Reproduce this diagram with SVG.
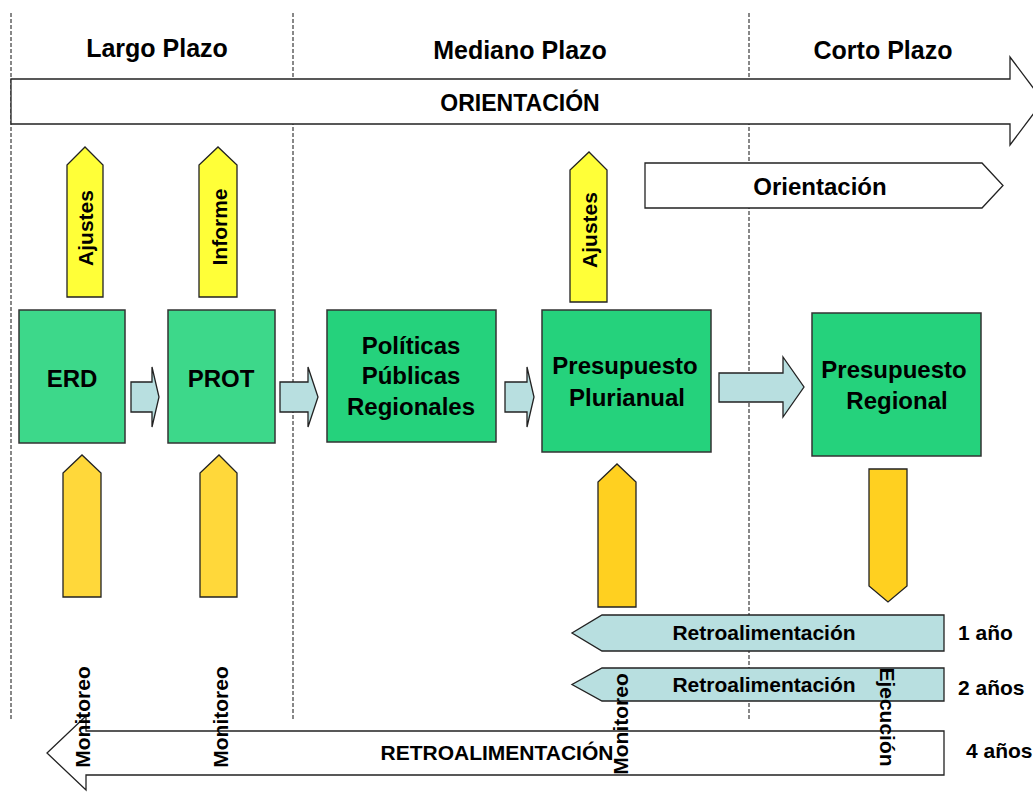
<svg xmlns="http://www.w3.org/2000/svg" width="1033" height="793" viewBox="0 0 1033 793">
  <style>
    text { font-family: "Liberation Sans", Arial, sans-serif; font-weight: bold; fill: #000; }
    .hdr { font-size: 25px; text-anchor: middle; }
    .box { stroke: #333; stroke-width: 1.5; }
    .g1 { fill: #3dd88a; }
    .g2 { fill: #25d27c; }
    .boxt { font-size: 24px; text-anchor: middle; }
    .blk { fill: #b8dfe0; stroke: #222; stroke-width: 1.3; }
    .yel { fill: #ffff38; stroke: #222; stroke-width: 1.3; }
    .ora1 { fill: #ffd83a; stroke: #222; stroke-width: 1.3; }
    .ora2 { fill: #ffd020; stroke: #222; stroke-width: 1.3; }
    .wht { fill: #fff; stroke: #222; stroke-width: 1.3; }
    .vt { font-size: 21px; text-anchor: middle; }
    .lbl { font-size: 21px; }
    .div { stroke: #111; stroke-width: 1; stroke-dasharray: 4 2; fill: none; }
  </style>

  <rect width="1033" height="793" fill="#fff"/>

  <!-- period dividers -->
  <g id="dividers">
    <line class="div" x1="11" y1="13" x2="11" y2="721"/>
    <line class="div" x1="293" y1="13" x2="293" y2="721"/>
    <line class="div" x1="749" y1="13" x2="749" y2="721"/>
  </g>

  <!-- period headers -->
  <g id="headers">
    <text class="hdr" x="157" y="57">Largo Plazo</text>
    <text class="hdr" x="520" y="59">Mediano Plazo</text>
    <text class="hdr" x="883" y="59">Corto Plazo</text>
  </g>

  <!-- long-range orientation band -->
  <g id="orientacion-band">
    <polygon class="wht" points="11,79 1010,79 1010,57 1043,101 1010,145 1010,124 11,124"/>
    <text x="520" y="111" font-size="23" text-anchor="middle">ORIENTACIÓN</text>
  </g>

  <g id="orientacion-short">
    <polygon class="wht" points="645,163 982,163 1003,185.5 982,208 645,208"/>
    <text x="820" y="195" font-size="24" text-anchor="middle">Orientación</text>
  </g>

  <!-- connectors -->
  <g id="connectors">
    <polygon class="blk" points="131,382 152,382 152,367 159,397 152,427 152,412 131,412"/>
    <polygon class="blk" points="280,382 308,382 308,367 318,397 308,427 308,412 280,412"/>
    <polygon class="blk" points="505,382 527,382 527,367 534,397 527,427 527,412 505,412"/>
    <polygon class="blk" points="719,373 783,373 783,357 804,387 783,417 783,402 719,402"/>
  </g>

  <!-- process nodes -->
  <g id="node-erd">
    <rect class="box g1" x="19" y="310" width="106" height="133"/>
    <text class="boxt" x="72" y="387">ERD</text>
  </g>
  <g id="node-prot">
    <rect class="box g1" x="168" y="310" width="107" height="133"/>
    <text class="boxt" x="221" y="387">PROT</text>
  </g>
  <g id="node-politicas">
    <rect class="box g2" x="327" y="310" width="169" height="132"/>
    <text class="boxt" x="411" y="354">Políticas</text>
    <text class="boxt" x="411" y="384">Públicas</text>
    <text class="boxt" x="411" y="415">Regionales</text>
  </g>
  <g id="node-plurianual">
    <rect class="box g2" x="542" y="310" width="169" height="142"/>
    <text class="boxt" x="625" y="374">Presupuesto</text>
    <text class="boxt" x="627" y="406">Plurianual</text>
  </g>
  <g id="node-regional">
    <rect class="box g2" x="812" y="313" width="169" height="143"/>
    <text class="boxt" x="894" y="378">Presupuesto</text>
    <text class="boxt" x="897" y="409">Regional</text>
  </g>

  <!-- upward yellow arrows -->
  <g id="ajustes-erd">
    <polygon class="yel" points="67,297 67,165 85,147 103,165 103,297"/>
    <text class="vt" transform="translate(93,228) rotate(-90)">Ajustes</text>
  </g>
  <g id="informe-prot">
    <polygon class="yel" points="199,297 199,165 218,147 237,165 237,297"/>
    <text class="vt" transform="translate(227,227) rotate(-90)">Informe</text>
  </g>
  <g id="ajustes-plurianual">
    <polygon class="yel" points="570,302 570,170 589,152 607,170 607,302"/>
    <text class="vt" transform="translate(597,230) rotate(-90)">Ajustes</text>
  </g>

  <!-- monitoring arrows -->
  <g id="monitoreo-erd">
    <polygon class="ora1" points="63,597 63,473 82,455 101,473 101,597"/>
  </g>
  <g id="monitoreo-prot">
    <polygon class="ora1" points="200,597 200,473 219,455 237,473 237,597"/>
  </g>
  <g id="monitoreo-plurianual">
    <polygon class="ora2" points="598,607 598,482 617,464 636,482 636,607"/>
  </g>
  <g id="ejecucion-regional">
    <polygon class="ora2" points="869,469 907,469 907,586 888,602 869,586"/>
  </g>

  <!-- feedback arrows -->
  <g id="retro-1">
    <polygon class="blk" points="944,615 602,615 572,633 602,651 944,651"/>
    <text class="lbl" x="764" y="640" text-anchor="middle">Retroalimentación</text>
    <text class="lbl" x="958" y="640">1 año</text>
  </g>
  <g id="retro-2">
    <polygon class="blk" points="944,668 602,668 572,684.5 602,701 944,701"/>
    <text class="lbl" x="764" y="692" text-anchor="middle">Retroalimentación</text>
    <text class="lbl" x="958" y="695">2 años</text>
  </g>
  <g id="retro-4">
    <polygon class="wht" points="944,731 86,731 86,716 47,753 86,790 86,775 944,775"/>
    <text x="497" y="760" font-size="21" text-anchor="middle">RETROALIMENTACIÓN</text>
    <text class="lbl" x="966" y="758">4 años</text>
  </g>

  <!-- vertical labels -->
  <g id="vertical-labels">
    <text class="vt" transform="translate(90,717) rotate(-90)">Monitoreo</text>
    <text class="vt" transform="translate(228,717) rotate(-90)">Monitoreo</text>
    <text class="vt" transform="translate(628,724) rotate(-90)">Monitoreo</text>
    <text class="vt" transform="translate(880,717) rotate(90)">Ejecución</text>
  </g>
</svg>
